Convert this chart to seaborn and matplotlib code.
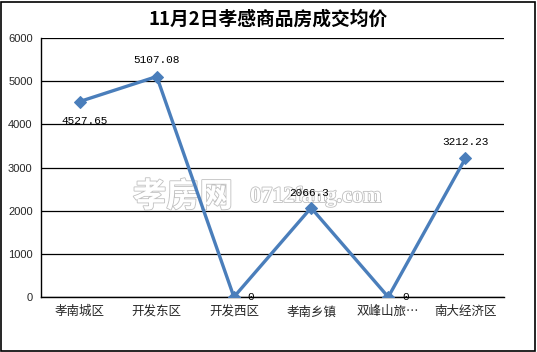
import matplotlib
matplotlib.use("Agg")
import matplotlib.pyplot as plt
import seaborn as sns
import pandas as pd
import matplotlib.patheffects as pe
from matplotlib.patches import Rectangle

categories = ["孝南城区", "开发东区", "开发西区", "孝南乡镇", "双峰山旅…", "南大经济区"]
prices = [4527.65, 5107.08, 0, 2066.3, 0, 3212.23]
label_texts = ["4527.65", "5107.08", "0", "2066.3", "0", "3212.23"]
yticks = [0, 1000, 2000, 3000, 4000, 5000, 6000]
title = "11月2日孝感商品房成交均价"

sns.set_theme(style="white")
plt.rcParams['font.family'] = ['Noto Sans CJK SC', 'DejaVu Sans']

df = pd.DataFrame({"cat": categories, "price": prices})

fig = plt.figure(figsize=(5.37, 3.52), dpi=100)
ax = fig.add_axes([41/537, 1-297/352, (504-41)/537, (297-38)/352])

color = "#4a7ebb"
x = list(range(len(categories)))
sns.lineplot(x=x, y=df["price"], ax=ax, color=color, linewidth=2.4,
             marker="D", markersize=6, markeredgecolor=color, markerfacecolor=color,
             zorder=3)

ax.set_xlim(-0.5, len(categories) - 0.5)
ax.set_ylim(0, 6000)
ax.set_yticks(yticks)
ax.set_yticklabels([str(v) for v in yticks], fontsize=8, family=['Liberation Sans'])
ax.set_xticks(x)
ax.set_xticklabels(categories, fontsize=9)
ax.tick_params(axis='x', length=0, pad=6)
ax.set_xticks([i - 0.5 for i in range(len(categories) + 1)], minor=True)
ax.tick_params(axis='x', which='minor', length=4, width=1, color='black', direction='out')
ax.tick_params(axis='y', length=4, width=1, color='black', direction='out', pad=2)
ax.yaxis.grid(True, color='black', linewidth=0.9)
ax.set_axisbelow(True)
for s in ["top", "right"]:
    ax.spines[s].set_visible(False)
for s in ["left", "bottom"]:
    ax.spines[s].set_color("black")
    ax.spines[s].set_linewidth(1)
ax.set_xlabel("")
ax.set_ylabel("")

# data labels
offsets = [(0.06, -330, 'center', 'top'), (0, 260, 'center', 'bottom'),
           (0.22, 0, 'center', 'center'), (-0.02, 220, 'center', 'bottom'),
           (0.22, 0, 'center', 'center'), (0, 260, 'center', 'bottom')]
for i, (v, t) in enumerate(zip(prices, label_texts)):
    dx, dy, ha, va = offsets[i]
    ax.text(i + dx, v + dy, t, fontsize=8, ha=ha, va=va,
            family=['Liberation Mono'], color='black', zorder=6)

# watermark (faint, beneath marks and labels)
ax.text((183-41)/463, (297-197)/259, "孝房网", transform=ax.transAxes, fontsize=24,
        color='white', ha='center', va='center', fontweight='bold', zorder=2,
        path_effects=[pe.withStroke(linewidth=1.2, foreground='#c0c0c0')])
ax.text((316-41)/463, (297-197)/259, "0712fang.com", transform=ax.transAxes, fontsize=16,
        color='white', ha='center', va='center', family=['Liberation Serif'],
        fontweight='bold', zorder=2,
        path_effects=[pe.withStroke(linewidth=1.2, foreground='#c0c0c0')])

fig.text(0.5, 1-19/352, title, fontsize=13.5, fontweight='bold', ha='center', va='center',
         color='black')

fig.patches.append(Rectangle((1/537, 1/352), 534/537, 349/352, transform=fig.transFigure,
                             fill=False, edgecolor='black', linewidth=1.2))

fig.savefig("out.png", dpi=100)
